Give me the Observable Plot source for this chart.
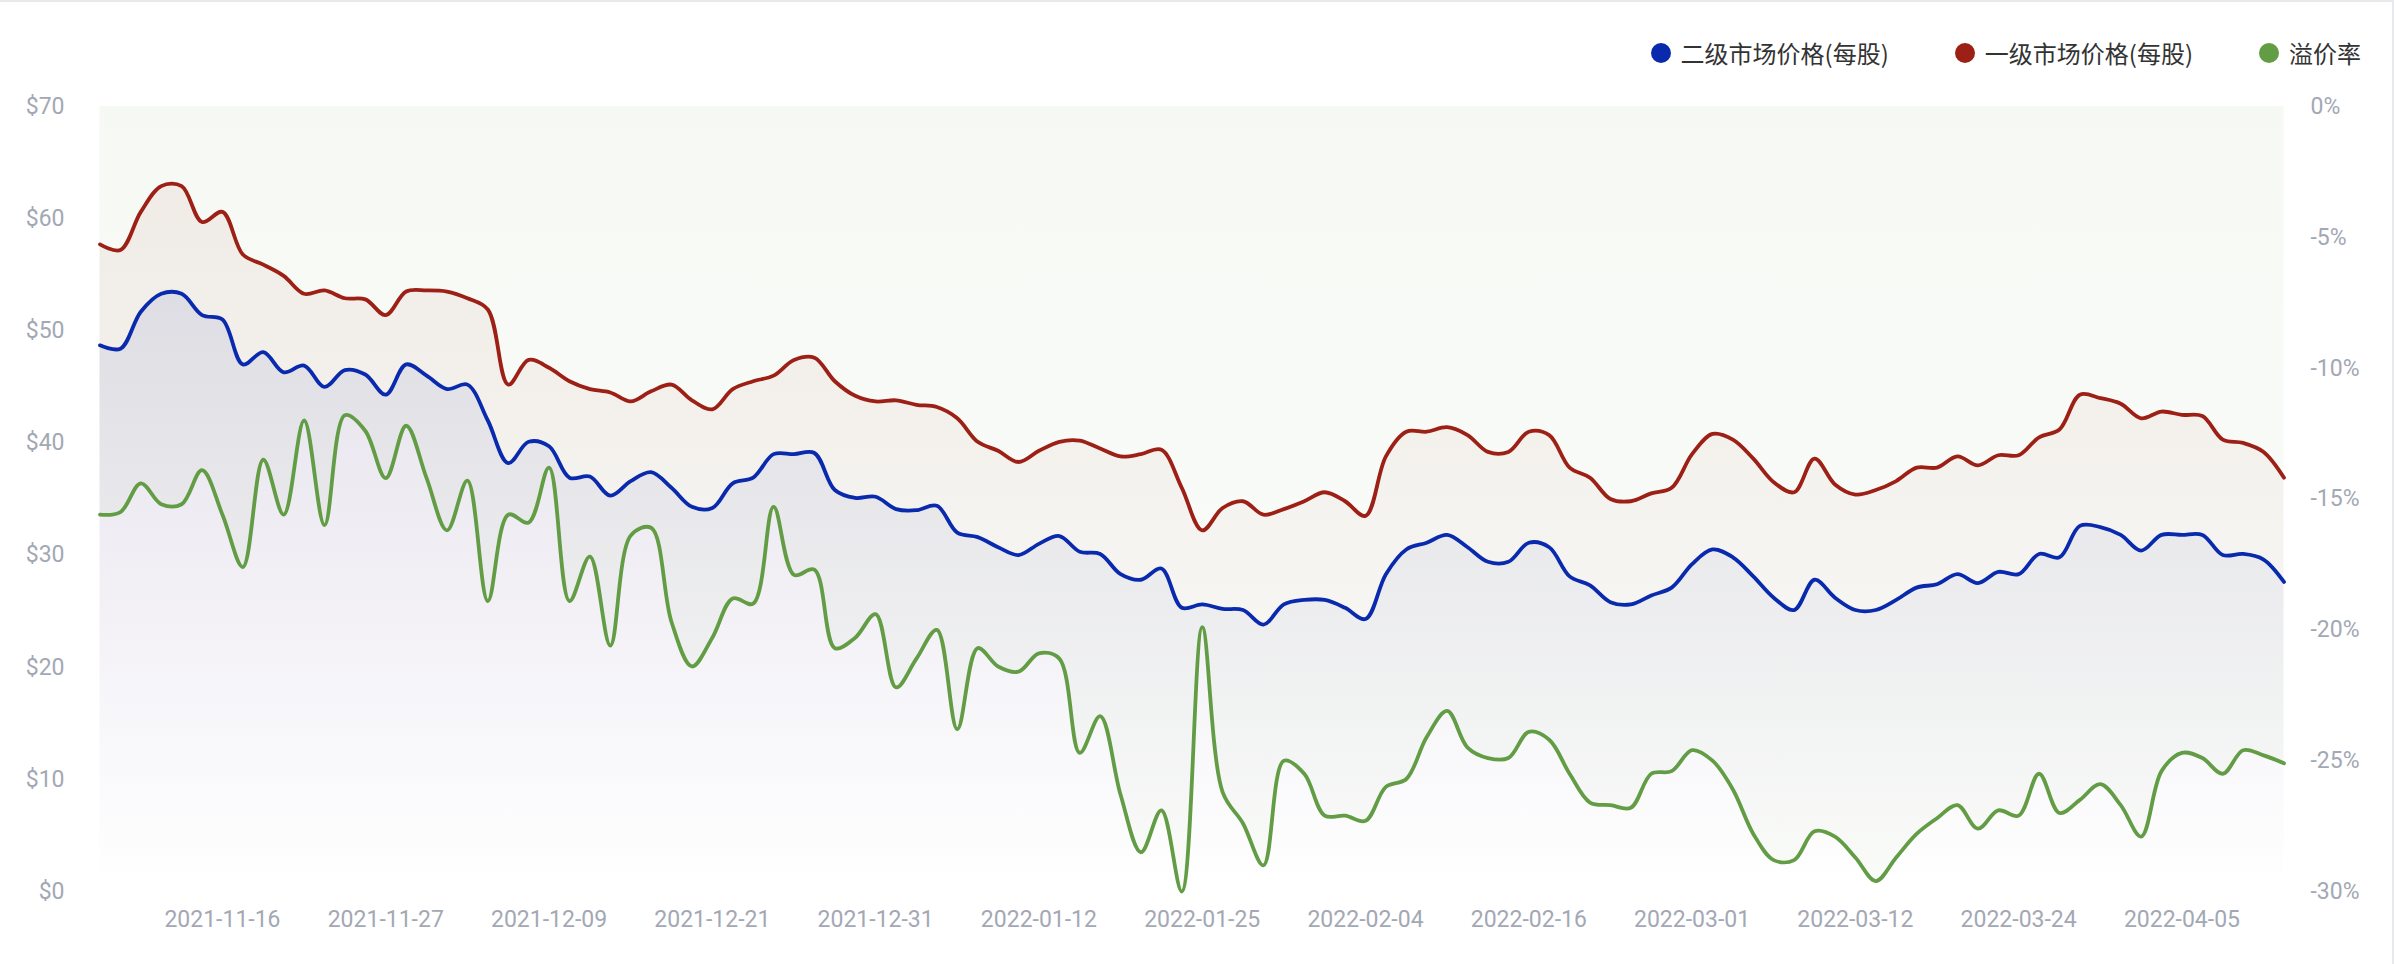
<!DOCTYPE html>
<html>
<head>
<meta charset="utf-8">
<script src="https://cdn.jsdelivr.net/npm/d3@7"></script>
<script src="https://cdn.jsdelivr.net/npm/@observablehq/plot@0.6"></script>
<style>
  html, body { margin: 0; padding: 0; background: #ffffff; }
  #wrap { position: relative; width: 2394px; height: 964px; overflow: hidden; background: #fff; }
  #legend { height: 80px; box-sizing: border-box; padding-top: 38px; padding-right: 33px;
            display: flex; justify-content: flex-end; align-items: flex-start;
            font-family: "Noto Sans CJK SC", "Noto Sans", sans-serif; font-size: 24px; color: #333; }
  .item { display: flex; align-items: center; height: 30px; line-height: 30px; margin-left: 66px; }
  .dot { width: 20px; height: 20px; border-radius: 50%; margin-right: 10px; display: inline-block; }
  .bt { position: absolute; left: 0; top: 0; width: 2394px; height: 2px; background: #e8e9ec; }
  .br { position: absolute; right: 0; top: 0; width: 2px; height: 964px; background: #e8e9ec; }
</style>
</head>
<body>
<div id="wrap">
  <div id="legend"></div>
  <div id="chart"></div>
  <div class="bt"></div>
  <div class="br"></div>
</div>
<script>
// ---- data ----
const seriesNames = ["二级市场价格(每股)", "一级市场价格(每股)", "溢价率"];
const seriesColors = ["#0a2aae", "#9c2015", "#629c44"];

// x tick labels and the category index they sit on
const tickIndex = [6, 14, 22, 30, 38, 46, 54, 62, 70, 78, 86, 94, 102];
const tickLabels = ["2021-11-16", "2021-11-27", "2021-12-09", "2021-12-21", "2021-12-31",
  "2022-01-12", "2022-01-25", "2022-02-04", "2022-02-16", "2022-03-01",
  "2022-03-12", "2022-03-24", "2022-04-05"];

// left axis ticks ($) and right axis ticks (%)
const priceTicks = [0, 10, 20, 30, 40, 50, 60, 70];
const pctTicks = [0, -5, -10, -15, -20, -25, -30];

// 二级市场价格(每股)
const secondary = [
  48.7, 48.4, 51.7, 53.3, 53.3, 51.4, 51.0, 47.0, 48.1, 46.3, 46.9, 45.0, 46.5, 46.1, 44.3, 47.0,
  46.0, 44.8, 45.2, 42.0, 38.2, 40.1, 39.7, 36.9, 37.0, 35.3, 36.6, 37.4, 36.0, 34.3, 34.2, 36.4,
  36.9, 39.0, 39.0, 39.1, 35.8, 35.1, 35.2, 34.1, 34.0, 34.4, 32.0, 31.6, 30.7, 30.0, 31.0, 31.7,
  30.3, 30.1, 28.3, 27.8, 28.8, 25.3, 25.6, 25.2, 25.1, 23.8, 25.6, 26.0, 26.0, 25.3, 24.3, 28.3,
  30.5, 31.1, 31.8, 30.7, 29.4, 29.4, 31.1, 30.7, 28.1, 27.3, 25.8, 25.6, 26.4, 27.1, 29.2, 30.5,
  29.8, 28.1, 26.2, 25.1, 27.8, 26.2, 25.1, 25.1, 26.0, 27.1, 27.4, 28.3, 27.5, 28.5, 28.3, 30.1,
  29.8, 32.6, 32.5, 31.8, 30.4, 31.8, 31.8, 31.8, 30.0, 30.1, 29.6, 27.6
];

// 一级市场价格(每股)
const primary = [
  57.7, 57.2, 60.6, 62.9, 62.9, 59.7, 60.6, 56.8, 55.9, 54.9, 53.3, 53.6, 52.9, 52.8, 51.4, 53.5,
  53.6, 53.5, 52.9, 51.9, 45.2, 47.4, 46.7, 45.5, 44.8, 44.5, 43.7, 44.6, 45.2, 43.8, 43.0, 44.8,
  45.5, 46.0, 47.4, 47.6, 45.5, 44.2, 43.7, 43.8, 43.4, 43.2, 42.2, 40.1, 39.3, 38.3, 39.3, 40.1,
  40.2, 39.5, 38.8, 39.0, 39.4, 36.0, 32.2, 34.2, 34.8, 33.6, 34.1, 34.8, 35.6, 34.8, 33.5, 38.8,
  41.0, 41.0, 41.4, 40.7, 39.2, 39.2, 41.0, 40.7, 37.8, 36.9, 35.0, 34.8, 35.5, 36.0, 39.0, 40.8,
  40.3, 38.6, 36.5, 35.6, 38.6, 36.3, 35.4, 35.8, 36.6, 37.8, 37.8, 38.8, 38.0, 38.9, 38.9, 40.5,
  41.2, 44.3, 44.0, 43.5, 42.2, 42.8, 42.5, 42.4, 40.3, 40.0, 39.2, 36.9
];

// 溢价率 (%)
const premium = [
  -15.6, -15.5, -14.4, -15.2, -15.2, -13.9, -15.6, -17.6, -13.5, -15.6, -12.0, -16.0, -11.8, -12.4, -14.2, -12.2,
  -14.2, -16.2, -14.3, -18.9, -15.6, -15.9, -13.8, -18.9, -17.2, -20.6, -16.4, -16.1, -19.7, -21.4, -20.3, -18.8,
  -19.0, -15.3, -17.9, -17.7, -20.7, -20.3, -19.4, -22.2, -21.1, -20.0, -23.8, -20.7, -21.4, -21.6, -20.9, -21.1,
  -24.7, -23.3, -26.3, -28.5, -26.9, -30.0, -19.9, -26.2, -27.4, -29.0, -25.0, -25.5, -27.1, -27.1, -27.3, -26.0,
  -25.7, -24.1, -23.1, -24.5, -24.9, -24.9, -23.9, -24.2, -25.5, -26.6, -26.7, -26.8, -25.5, -25.4, -24.6, -25.0,
  -26.1, -27.8, -28.8, -28.8, -27.7, -27.9, -28.7, -29.6, -28.7, -27.8, -27.2, -26.7, -27.6, -26.9, -27.1, -25.5,
  -27.0, -26.5, -25.9, -26.7, -27.9, -25.4, -24.7, -24.9, -25.5, -24.6, -24.8, -25.1
];

// ---- legend ----
const legend = document.getElementById("legend");
seriesNames.forEach((name, k) => {
  const it = document.createElement("div");
  it.className = "item";
  it.innerHTML = `<span class="dot" style="background:${seriesColors[k]}"></span><span>${name}</span>`;
  legend.appendChild(it);
});

// ---- chart ----
const N = secondary.length;
const pctToPrice = p => (p + 30) * 70 / 30;   // right axis (-30%..0%) mapped onto left axis ($0..$70)
const rows = d3.range(N).map(i => ({i, s: secondary[i], p: primary[i], g: pctToPrice(premium[i])}));
const [BLUE, RED, GREEN] = seriesColors;
const curve = "catmull-rom";
const axisText = {fontSize: 23, fontFamily: "Roboto", color: "#a3a8b4", label: null};

const chart = Plot.plot({
  width: 2394,
  height: 884,
  marginLeft: 99.5,
  marginRight: 110.5,
  marginTop: 26,
  marginBottom: 73,
  style: {fontFamily: "Roboto", fontSize: "23px", background: "transparent", color: "#a3a8b4"},
  x: {domain: [0, N - 1], axis: null, label: null},
  y: {domain: [0, 70], axis: null, label: null},
  marks: [
    Plot.areaY(rows, {x: "i", y1: 70, y2: "g", curve, fill: "url(#gGreen)"}),
    Plot.areaY(rows, {x: "i", y: "p", curve, fill: "url(#gRed)"}),
    Plot.areaY(rows, {x: "i", y: "s", curve, fill: "url(#gBlue)"}),
    Plot.lineY(rows, {x: "i", y: "p", curve, stroke: RED, strokeWidth: 3.8}),
    Plot.lineY(rows, {x: "i", y: "s", curve, stroke: BLUE, strokeWidth: 3.8}),
    Plot.lineY(rows, {x: "i", y: "g", curve, stroke: GREEN, strokeWidth: 3.8}),
    Plot.axisY(priceTicks, {anchor: "left", tickSize: 0, tickPadding: 35.5, tickFormat: d => "$" + d, ...axisText}),
    Plot.axisY(pctTicks.map(pctToPrice), {anchor: "right", tickSize: 0, tickPadding: 26.5,
      tickFormat: d => String(Math.round(d * 30 / 70 - 30)) + "%", ...axisText}),
    Plot.axisX(tickIndex, {anchor: "bottom", tickSize: 0, tickPadding: 19,
      tickFormat: d => tickLabels[tickIndex.indexOf(d)], ...axisText})
  ]
});
document.getElementById("chart").appendChild(chart);

// gradients for the area fills (relative to each area's bounding box)
const svg = d3.select(chart.tagName.toLowerCase() === "svg" ? chart : chart.querySelector("svg"));
const defs = svg.insert("defs", ":first-child");
function grad(id, color, a0, a1) {
  const g = defs.append("linearGradient").attr("id", id)
    .attr("x1", 0).attr("y1", 0).attr("x2", 0).attr("y2", 1);
  g.append("stop").attr("offset", 0).attr("stop-color", color).attr("stop-opacity", a0);
  g.append("stop").attr("offset", 1).attr("stop-color", color).attr("stop-opacity", a1);
}
grad("gGreen", GREEN, 0.06, 0.03);
grad("gRed", RED, 0.065, 0);
grad("gBlue", BLUE, 0.085, 0);
</script>
</body>
</html>
